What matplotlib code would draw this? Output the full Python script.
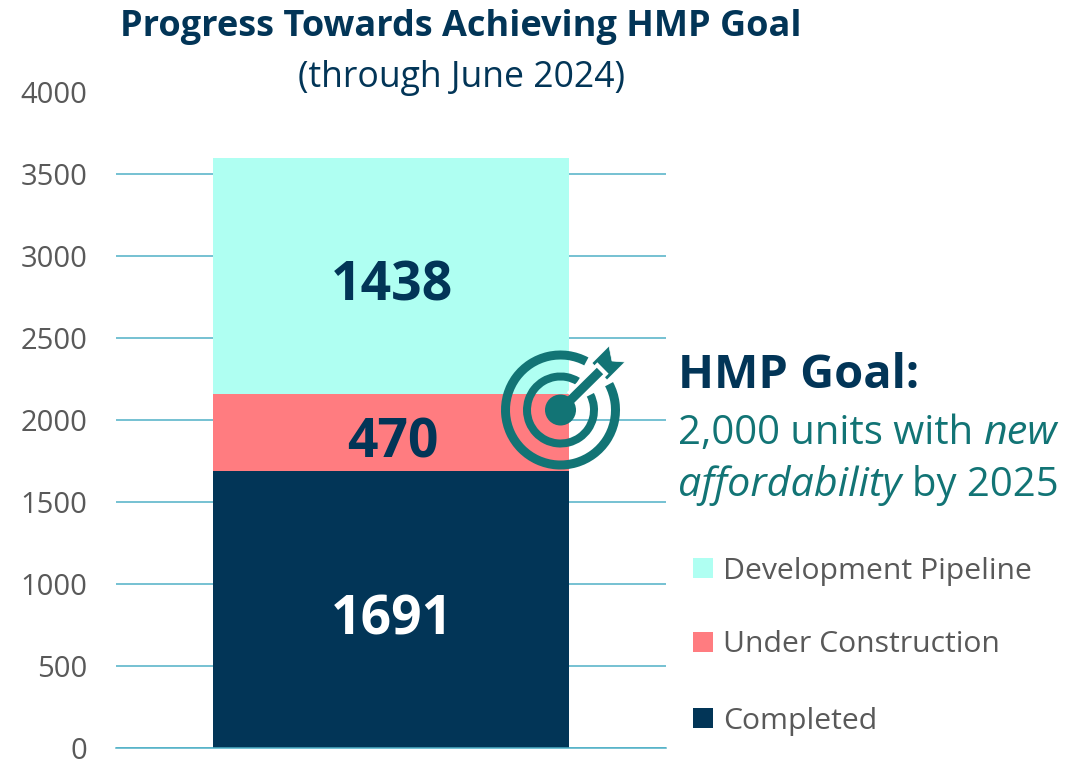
import matplotlib.pyplot as plt
from matplotlib.patches import Circle, Polygon, Wedge, Rectangle

plt.rcParams['font.family'] = ['Open Sans', 'DejaVu Sans']

categories = ['Completed', 'Under Construction', 'Development Pipeline']
values = [1691, 470, 1438]
colors = ['#023557', '#FF7C80', '#AFFFF2']
label_colors = ['white', '#023557', '#023557']
ticks = [0, 500, 1000, 1500, 2000, 2500, 3000, 3500, 4000]

navy = '#023557'
teal = '#127475'
grey = '#595959'
line = '#4FB0C6'

W, H = 1086, 762
fig = plt.figure(figsize=(W / 100, H / 100), dpi=100)
# axes from the gridline extents
ax = fig.add_axes([116 / W, 1 - 748 / H, (666 - 116) / W, (748 - 92) / H])
ax.set_xlim(0, 1)
ax.set_ylim(0, 4000)
ax.set_yticks(ticks)
ax.set_xticks([])
ax.tick_params(axis='y', length=0, labelsize=21, labelcolor=grey, pad=20.5)
for s in ['top', 'right', 'left']:
    ax.spines[s].set_visible(False)
ax.spines['bottom'].set_color(line)
ax.spines['bottom'].set_linewidth(1.1)
ax.grid(axis='y', color=line, lw=1.1)
ax.get_ygridlines()[-1].set_visible(False)  # no line at the top
ax.set_axisbelow(True)

bottom = 0
for v, c, lc in zip(values, colors, label_colors):
    ax.bar(0.5, v, bottom=bottom, width=0.647, color=c, zorder=2)
    ax.annotate(str(v), (0.5, bottom + v / 2), xytext=(1, -8), textcoords='offset points',
                ha='center', va='center', fontsize=38.5, fontweight='bold', color=lc, zorder=3)
    bottom += v

fig.text(461 / W, 1 - 27 / H, 'Progress Towards Achieving HMP Goal', ha='center', va='center',
         fontsize=26, fontweight='bold', color=navy)
fig.text(461 / W, 1 - 78 / H, '(through June 2024)', ha='center', va='center',
         fontsize=25.7, color=navy)

# target icon, pixel coords overlay
ov = fig.add_axes([0, 0, 1, 1], facecolor='none')
ov.set_xlim(0, W)
ov.set_ylim(H, 0)
ov.axis('off')
cx, cy = 560.5, 410
ov.add_patch(Wedge((cx, cy), 59.5, -28, 298, width=9, fc=teal, ec='none'))
ov.add_patch(Wedge((cx, cy), 37.5, -27, 301, width=8, fc=teal, ec='none'))
ov.plot([cx + 12, 603], [cy - 12, 368], color='white', lw=11.5, solid_capstyle='butt')
ov.add_patch(Circle((cx, cy), 15.5, fc=teal, ec='none'))
ov.plot([cx, 600], [cy, 371], color=teal, lw=6.5, solid_capstyle='butt')
ov.add_patch(Polygon([(592, 363), (609, 346), (612, 361), (625, 362), (607, 380)],
                     fc=teal, ec='white', lw=0.5))


def runs(x, y, parts, color):
    # lay out roman and italic pieces one after the other
    r = fig.canvas.get_renderer()
    for s, style, size in parts:
        t = ov.text(x, y, s, ha='left', va='center_baseline', fontsize=size, color=color, style=style)
        x += t.get_window_extent(r).width


ov.text(678, 376, 'HMP Goal:', ha='left', va='center', fontsize=33.8, fontweight='bold', color=navy)
runs(678, 429, [('2,000 units with ', 'normal', 28.8), ('new', 'italic', 29.7)], teal)
runs(678, 480, [('affordability ', 'italic', 29.7), ('by 2025', 'normal', 28.8)], teal)

legend_y = [718, 642, 568]
for name, c, y in zip(categories, colors, legend_y):
    ov.add_patch(Rectangle((693, y - 10), 20, 20, fc=c, ec='none'))
    ov.text(723, y + 3, name, ha='left', va='center', fontsize=21.7, color=grey)

fig.savefig('out.png', dpi=100)
